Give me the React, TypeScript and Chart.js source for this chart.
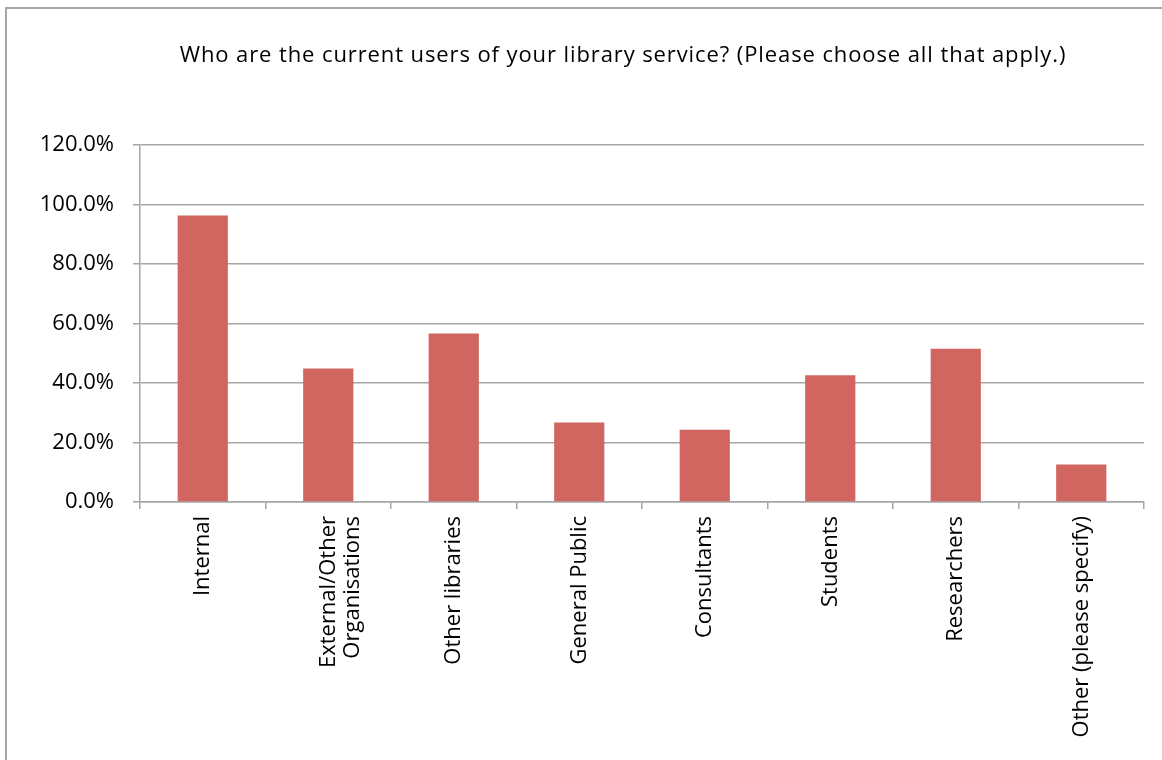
import React, { useEffect, useRef } from "react";
import { Chart, registerables } from "chart.js";

Chart.register(...registerables);

const TITLE = "Who are the current users of your library service? (Please choose all that apply.)";
const categories: (string | string[])[] = [
  "Internal",
  ["External/Other", "Organisations"],
  "Other libraries",
  "General Public",
  "Consultants",
  "Students",
  "Researchers",
  "Other (please specify)",
];
const values = [96.3, 44.9, 56.6, 26.7, 24.3, 42.6, 51.5, 12.6];
const yMin = 0;
const yMax = 120;
const yStep = 20;

const FONT = "'Open Sans', 'DejaVu Sans', sans-serif";
const GRID = "#a6a6a6";
const BAR = "#d0665f";

const titlePlugin = {
  id: "customTitle",
  afterDraw(chart: any) {
    const ctx = chart.ctx as CanvasRenderingContext2D;
    ctx.save();
    ctx.font = `22px ${FONT}`;
    (ctx as any).letterSpacing = "0.9px";
    ctx.fillStyle = "#000";
    ctx.textAlign = "center";
    ctx.textBaseline = "middle";
    ctx.fillText(TITLE, 623, 56);
    ctx.restore();
  },
};

export default function App() {
  const ref = useRef<HTMLCanvasElement | null>(null);
  useEffect(() => {
    if (!ref.current) return;
    const chart = new Chart(ref.current, {
      type: "bar",
      data: {
        labels: categories,
        datasets: [
          {
            data: values,
            backgroundColor: BAR,
            barPercentage: 0.4,
            categoryPercentage: 1,
          },
        ],
      },
      plugins: [titlePlugin],
      options: {
        animation: false,
        responsive: false,
        layout: { padding: { left: 0, right: 18, top: 145, bottom: 0 } },
        plugins: {
          legend: { display: false },
          tooltip: { enabled: false },
          title: { display: false },
        },
        scales: {
          x: {
            grid: {
              offset: true,
              drawOnChartArea: false,
              drawTicks: true,
              tickLength: 7,
              color: GRID,
              lineWidth: 1.5,
            },
            border: { display: true, color: GRID, width: 1.5 },
            ticks: {
              color: "#000",
              font: { family: FONT, size: 22, lineHeight: 1.1 },
              minRotation: 90,
              maxRotation: 90,
              padding: 7,
              autoSkip: false,
            },
            afterFit: (s: any) => {
              s.height = 258;
            },
          },
          y: {
            min: yMin,
            max: yMax,
            grid: {
              color: GRID,
              lineWidth: 1.5,
              tickLength: 7,
              drawTicks: true,
            },
            border: { display: true, color: GRID, width: 1.5 },
            ticks: {
              stepSize: yStep,
              color: "#000",
              font: { family: FONT, size: 22 },
              padding: 19,
              callback: (v: any) => Number(v).toFixed(1) + "%",
            },
            afterFit: (s: any) => {
              s.width = 140;
            },
          },
        },
      },
    });
    return () => chart.destroy();
  }, []);
  return (
    <div style={{ position: "fixed", left: 0, top: 0, width: 1162, height: 760, background: "#fff" }}>
      <div
        style={{
          position: "absolute",
          left: 5,
          top: 7,
          width: 1157,
          height: 753,
          borderLeft: "2px solid #a6a6a6",
          borderTop: "2px solid #a6a6a6",
          boxSizing: "border-box",
        }}
      />
      <canvas ref={ref} width={1162} height={760} style={{ position: "absolute", left: 0, top: 0 }} />
    </div>
  );
}
